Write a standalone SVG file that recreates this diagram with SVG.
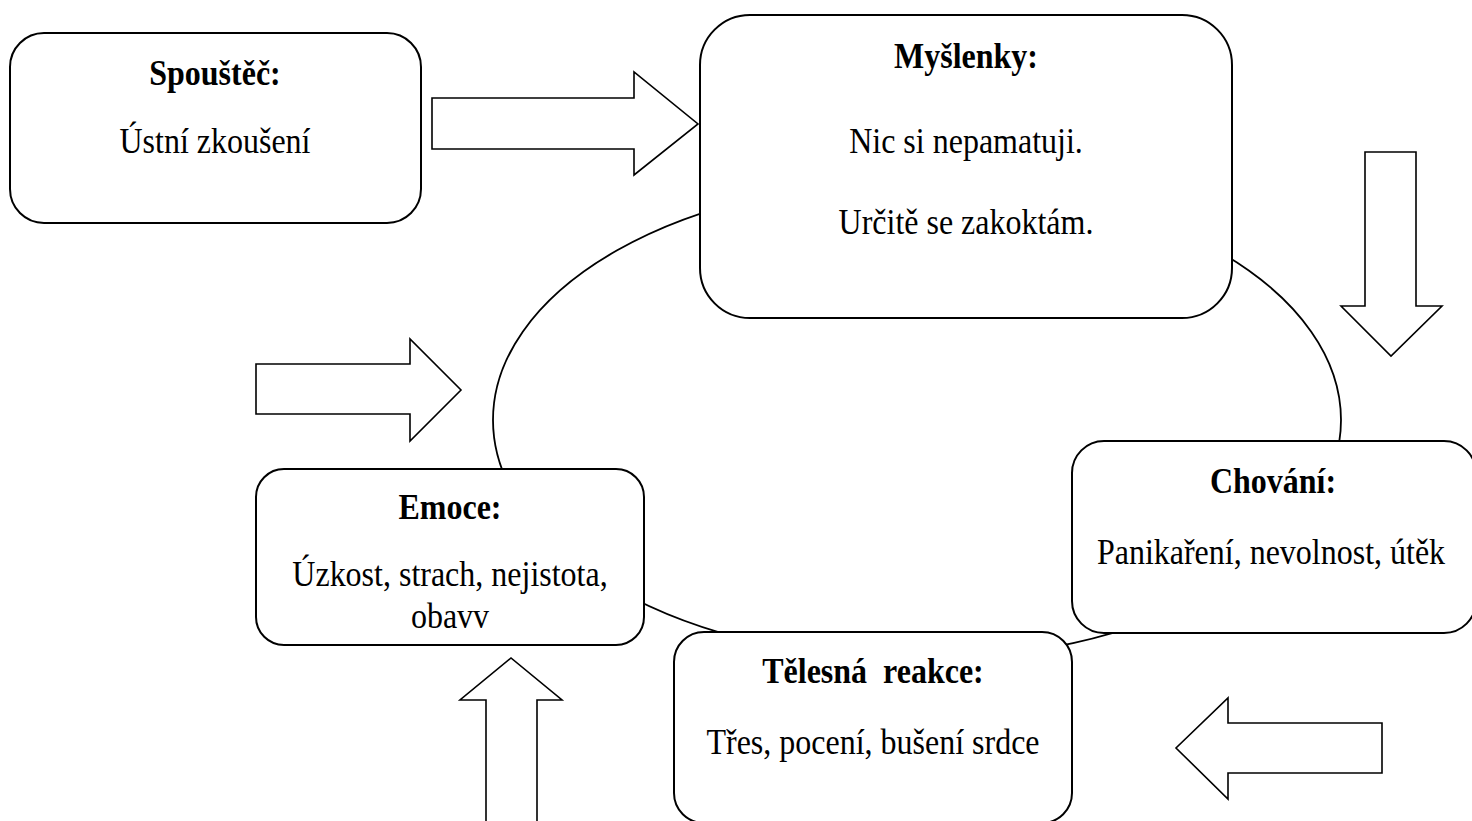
<svg xmlns="http://www.w3.org/2000/svg" width="1472" height="821" viewBox="0 0 1472 821">
<style>
.box{fill:#fff;stroke:#000;stroke-width:2}
.arrow{fill:#fff;stroke:#000;stroke-width:1.6;stroke-linejoin:miter}
.cycle{fill:none;stroke:#000;stroke-width:1.8}
text{font-family:"Liberation Serif","Times New Roman",serif;font-size:32px;fill:#000;text-anchor:middle}
.t{font-weight:bold}
</style>
<rect width="1472" height="821" fill="#fff"/>
<g id="connectors">
<ellipse class="cycle" cx="917" cy="420" rx="424" ry="240"/>
<polygon class="arrow" points="432,98 634,98 634,72 698,124 634,175 634,149 432,149"/>
<polygon class="arrow" points="1365,152 1416,152 1416,306 1442,306 1391,356 1341,306 1365,306"/>
<polygon class="arrow" points="256,364 410,364 410,339 461,390 410,441 410,414 256,414"/>
<polygon class="arrow" points="1382,723 1228,723 1228,698 1176,748 1228,799 1228,773 1382,773"/>
<polygon class="arrow" points="486,830 486,700 460,700 511,658 562,700 537,700 537,830"/>
</g>
<g id="spoustec">
<rect class="box" x="10" y="33" width="411" height="190" rx="34" ry="34"/>
<text class="t" transform="matrix(1 0 0 1.1 215 85)">Spouštěč:</text>
<text transform="matrix(1 0 0 1.14 215 153)">Ústní zkoušení</text>
</g>
<g id="myslenky">
<rect class="box" x="700" y="15" width="532" height="303" rx="50" ry="50"/>
<text class="t" transform="matrix(1 0 0 1.1 966 68)">Myšlenky:</text>
<text transform="matrix(1 0 0 1.14 966 153)">Nic si nepamatuji.</text>
<text transform="matrix(1 0 0 1.14 966 234)">Určitě se zakoktám.</text>
</g>
<g id="emoce">
<rect class="box" x="256" y="469" width="388" height="176" rx="28" ry="28"/>
<text class="t" transform="matrix(1 0 0 1.1 450 519)">Emoce:</text>
<text transform="matrix(1 0 0 1.14 450 586)">Úzkost, strach, nejistota,</text>
<text transform="matrix(1 0 0 1.14 450 628)">obavv</text>
</g>
<g id="chovani">
<rect class="box" x="1072" y="441" width="404" height="192" rx="32" ry="32"/>
<text class="t" transform="matrix(1 0 0 1.1 1273 493)">Chování:</text>
<text transform="matrix(1 0 0 1.14 1271 564)">Panikaření, nevolnost, útěk</text>
</g>
<g id="telesna">
<rect class="box" x="674" y="632" width="398" height="191" rx="30" ry="30"/>
<text class="t" transform="matrix(1 0 0 1.1 873 683)" xml:space="preserve">Tělesná  reakce:</text>
<text transform="matrix(1 0 0 1.14 873 754)">Třes, pocení, bušení srdce</text>
</g>
</svg>
